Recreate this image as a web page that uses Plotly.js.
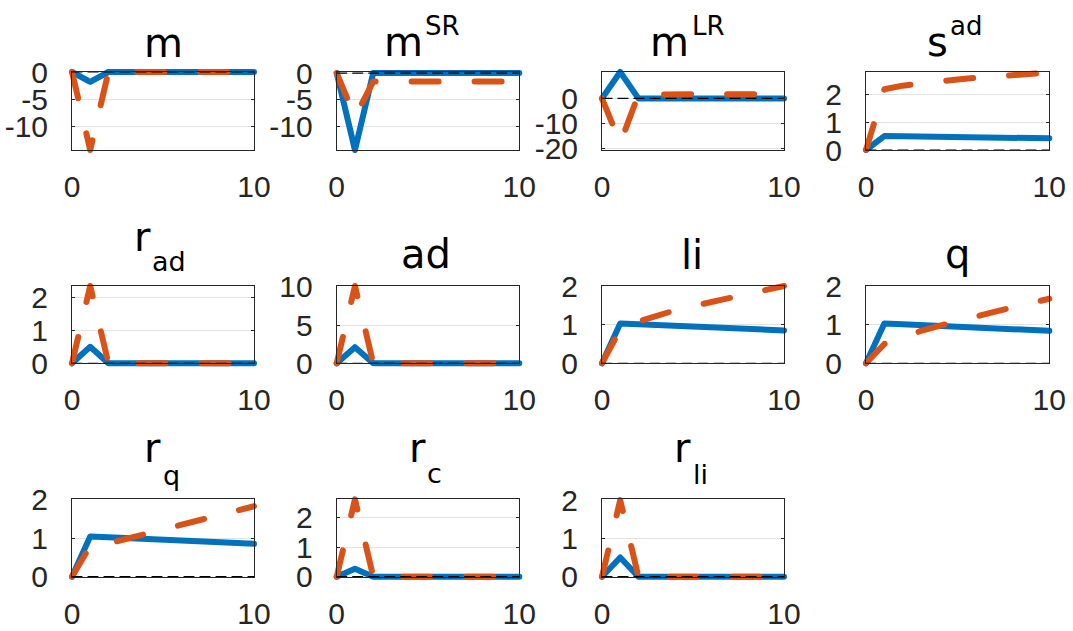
<!DOCTYPE html>
<html>
<head>
<meta charset="utf-8">
<script src="https://cdn.plot.ly/plotly-3.0.1.min.js"></script>
<style>
html,body{margin:0;padding:0;background:#fff;}
#chart{width:1073px;height:631px;}
.cartesianlayer *, .cartesianlayer g.plot, .cartesianlayer .scatterlayer, .cartesianlayer .scatterlayer * { clip-path: none !important; }
path.js-line { stroke-linecap: round !important; stroke-linejoin: round !important; }
</style>
</head>
<body>
<div id="chart"></div>
<script>
// ---- data ----
const x = [0, 1, 2, 3, 4, 5, 6, 7, 8, 9, 10];
const zeroLine = [0, 0, 0, 0, 0, 0, 0, 0, 0, 0, 0];

const mBlue     = [0, -1.8, 0, 0, 0, 0, 0, 0, 0, 0, 0];
const mOrange   = [0, -14.3, 0, 0, 0, 0, 0, 0, 0, 0, 0];
const mSRBlue   = [0, -14.5, 0, 0, 0, 0, 0, 0, 0, 0, 0];
const mSROrange = [0, -8.3, -1.6, -1.6, -1.6, -1.6, -1.6, -1.6, -1.6, -1.6, -1.6];
const mLRBlue   = [0, 10.6, 0, 0, 0, 0, 0, 0, 0, 0, 0];
const mLROrange = [0, -18, 1.5, 1.7, 1.7, 1.7, 1.7, 1.7, 1.7, 1.7, 1.7];
const sadBlue   = [0, 0.5, 0.49, 0.48, 0.47, 0.46, 0.45, 0.44, 0.43, 0.43, 0.42];
const sadOrange = [0, 2.18, 2.31, 2.4, 2.47, 2.53, 2.59, 2.64, 2.69, 2.74, 2.78];
const radBlue   = [0, 0.5, 0, 0, 0, 0, 0, 0, 0, 0, 0];
const radOrange = [0, 2.35, 0, 0, 0, 0, 0, 0, 0, 0, 0];
const adBlue    = [0, 2.1, 0, 0, 0, 0, 0, 0, 0, 0, 0];
const adOrange  = [0, 10.1, 0, 0, 0, 0, 0, 0, 0, 0, 0];
const liBlue    = [0, 1.03, 1.01, 0.99, 0.97, 0.95, 0.93, 0.91, 0.89, 0.87, 0.85];
const liOrange  = [0, 0.88, 1.08, 1.24, 1.37, 1.48, 1.58, 1.68, 1.78, 1.89, 2.0];
const qBlue     = [0, 1.03, 1.01, 0.99, 0.96, 0.94, 0.92, 0.9, 0.88, 0.86, 0.84];
const qOrange   = [0, 0.5, 0.65, 0.84, 0.97, 1.1, 1.2, 1.33, 1.45, 1.56, 1.67];
const rqBlue    = [0, 1.04, 1.02, 1.0, 0.98, 0.96, 0.94, 0.92, 0.89, 0.87, 0.85];
const rqOrange  = [0, 0.8, 0.86, 0.98, 1.12, 1.25, 1.37, 1.49, 1.6, 1.72, 1.82];
const rcBlue    = [0, 0.27, 0, 0, 0, 0, 0, 0, 0, 0, 0];
const rcOrange  = [0, 2.62, 0, 0, 0, 0, 0, 0, 0, 0, 0];
const rliBlue   = [0, 0.5, 0, 0, 0, 0, 0, 0, 0, 0, 0];
const rliOrange = [0, 2.0, 0, 0, 0, 0, 0, 0, 0, 0, 0];

const xTickVals = [0, 10];
const xTickText = ['0', '10'];
const yTicksM     = [-10, -5, 0];
const yLabelsM    = ['-10', '-5', '0'];
const yTicksMLR   = [-20, -10, 0];
const yLabelsMLR  = ['-20', '-10', '0'];
const yTicks012   = [0, 1, 2];
const yLabels012  = ['0', '1', '2'];
const yTicksAd    = [0, 5, 10];
const yLabelsAd   = ['0', '5', '10'];

const yRanges = [[-14.3, 0], [-14.5, 0.2], [-20.7, 10.6], [0, 2.8],
                 [0, 2.35], [0, 10.1], [0, 2.0], [0, 2.0],
                 [0, 2.0], [0, 2.62], [0, 2.02]];

const panels = [
  {blue: mBlue, orange: mOrange, ticks: yTicksM, labels: yLabelsM},
  {blue: mSRBlue, orange: mSROrange, ticks: yTicksM, labels: yLabelsM},
  {blue: mLRBlue, orange: mLROrange, ticks: yTicksMLR, labels: yLabelsMLR},
  {blue: sadBlue, orange: sadOrange, ticks: yTicks012, labels: yLabels012},
  {blue: radBlue, orange: radOrange, ticks: yTicks012, labels: yLabels012},
  {blue: adBlue, orange: adOrange, ticks: yTicksAd, labels: yLabelsAd},
  {blue: liBlue, orange: liOrange, ticks: yTicks012, labels: yLabels012},
  {blue: qBlue, orange: qOrange, ticks: yTicks012, labels: yLabels012},
  {blue: rqBlue, orange: rqOrange, ticks: yTicks012, labels: yLabels012},
  {blue: rcBlue, orange: rcOrange, ticks: yTicks012, labels: yLabels012},
  {blue: rliBlue, orange: rliOrange, ticks: yTicks012, labels: yLabels012}
];

// titles: base letter and super/subscript parts (left edge px, baseline px)
const titles = [
  [{t: 'm', x: 163, a: 'center', b: 58, s: 40}],
  [{t: 'm', x: 382, a: 'left', b: 57, s: 40}, {t: 'SR', x: 423, a: 'left', b: 36, s: 26}],
  [{t: 'm', x: 648, a: 'left', b: 57, s: 40}, {t: 'LR', x: 690, a: 'left', b: 36, s: 26}],
  [{t: 's', x: 925, a: 'left', b: 57, s: 40}, {t: 'ad', x: 948, a: 'left', b: 36, s: 26}],
  [{t: 'r', x: 132, a: 'left', b: 252, s: 40}, {t: 'ad', x: 150, a: 'left', b: 272, s: 27}],
  [{t: 'ad', x: 426, a: 'center', b: 269, s: 40}],
  [{t: 'li', x: 692, a: 'center', b: 270, s: 40}],
  [{t: 'q', x: 957, a: 'center', b: 269, s: 40}],
  [{t: 'r', x: 142, a: 'left', b: 463, s: 40}, {t: 'q', x: 160.5, a: 'left', b: 486, s: 27}],
  [{t: 'r', x: 407, a: 'left', b: 463, s: 40}, {t: 'c', x: 424.5, a: 'left', b: 484, s: 27}],
  [{t: 'r', x: 672, a: 'left', b: 463, s: 40}, {t: 'li', x: 690.5, a: 'left', b: 485, s: 27}]
];

// ---- layout ----
const W = 1073, H = 631;
const colX = [[72, 254], [336.7, 519.3], [602, 784], [866, 1049.3]];
const rowY = [[72, 150], [286, 363.3], [499.3, 576.7]];
const BLUE = '#0072BD', ORANGE = '#D95319', AX = '#262626';
const tickFont = {family: 'Liberation Sans, Arial, sans-serif', size: 30, color: AX};
const titleFamily = 'DejaVu Sans, sans-serif';

const data = [];
const layout = {
  width: W, height: H,
  margin: {l: 0, r: 0, t: 0, b: 0},
  paper_bgcolor: '#ffffff', plot_bgcolor: '#ffffff',
  showlegend: false,
  annotations: []
};

panels.forEach((p, i) => {
  const r = Math.floor(i / 4), c = i % 4;
  const sfx = i === 0 ? '' : String(i + 1);
  const xa = 'x' + sfx, ya = 'y' + sfx;
  data.push({x: x, y: p.blue, xaxis: xa, yaxis: ya, type: 'scatter', mode: 'lines',
             line: {color: BLUE, width: 6}, hoverinfo: 'skip'});
  data.push({x: x, y: p.orange, xaxis: xa, yaxis: ya, type: 'scatter', mode: 'lines',
             line: {color: ORANGE, width: 6, dash: '27px,36px'}, hoverinfo: 'skip'});
  data.push({x: x, y: zeroLine, xaxis: xa, yaxis: ya, type: 'scatter', mode: 'lines',
             line: {color: '#000000', width: 1.2, dash: '10px,6px'}, hoverinfo: 'skip'});
  layout['xaxis' + sfx] = {
    domain: [colX[c][0] / W, colX[c][1] / W], anchor: ya,
    range: [0, 10], tickvals: xTickVals, ticktext: xTickText,
    ticks: 'inside', ticklen: 3, tickcolor: AX,
    showline: true, linecolor: AX, linewidth: 1, mirror: 'ticks',
    showgrid: false, zeroline: false, tickfont: tickFont, ticklabelstandoff: 10,
    fixedrange: true
  };
  layout['yaxis' + sfx] = {
    domain: [1 - rowY[r][1] / H, 1 - rowY[r][0] / H], anchor: xa,
    range: yRanges[i], tickvals: p.ticks, ticktext: p.labels,
    ticks: 'inside', ticklen: 3, tickcolor: AX,
    showline: true, linecolor: AX, linewidth: 1, mirror: 'ticks',
    showgrid: true, gridcolor: '#e3e3e3', gridwidth: 1, zeroline: false,
    tickfont: tickFont, ticklabelstandoff: 17, fixedrange: true
  };
  titles[i].forEach(pc => {
    const bottomPx = pc.b + 0.236 * pc.s + 1;
    layout.annotations.push({
      text: pc.t, xref: 'paper', yref: 'paper',
      x: pc.x / W, y: 1 - bottomPx / H, xanchor: pc.a, yanchor: 'bottom',
      showarrow: false,
      font: {family: titleFamily, size: pc.s, color: '#000000'}
    });
  });
});

Plotly.newPlot('chart', data, layout, {staticPlot: true, displayModeBar: false});
</script>
</body>
</html>
